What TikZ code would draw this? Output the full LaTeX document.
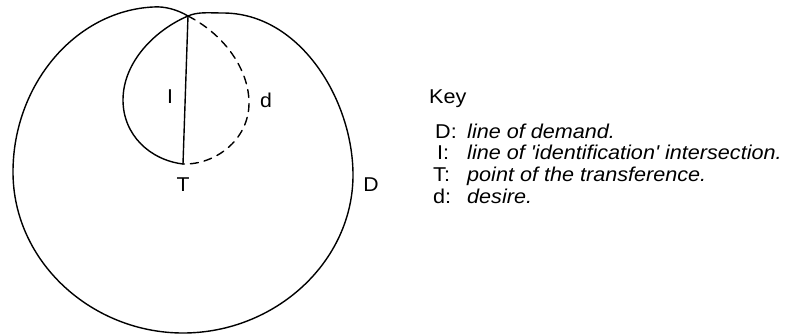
\documentclass[tikz,border=0pt]{standalone}
\usepackage{fontspec}
\newfontfamily\lblfont{Liberation Sans}
\begin{document}
\begin{tikzpicture}[x=1pt,y=-1pt,
  curve/.style={line width=1.4pt, line join=round, line cap=round},
  dashcurve/.style={curve, dash pattern=on 8pt off 6pt},
  lbl/.style={inner sep=0pt, xscale=1.06, font=\lblfont\fontsize{20}{22}\selectfont},
  keyitem/.style={inner sep=0pt, anchor=base west, xscale=1.08, font=\lblfont\fontsize{20}{22}\selectfont},
  keytext/.style={keyitem, font=\lblfont\fontsize{20}{22}\selectfont\itshape}]
\useasboundingbox (0,0) rectangle (785,335);
\coordinate (P) at (188,16);
\coordinate (T) at (183,164);
% line of demand D, running on into the left arc of the small loop
\draw[curve] (P) .. controls (178,10) and (165,6) .. (153,7)
  .. controls (75,11) and (13,85) .. (13,172)
  .. controls (13,262) and (92,333) .. (183,333)
  .. controls (275,333) and (353,262) .. (353,175)
  .. controls (353,100) and (300,13) .. (223,13)
  .. controls (210,13) and (198,11.5) .. (P)
  .. controls (155,30) and (123,62) .. (123,100)
  .. controls (123,135) and (150,160) .. (T);
% line of identification
\draw[curve] (T) -- (P);
% desire
\draw[dashcurve] (P) .. controls (225,35) and (249,70) .. (249,103)
  .. controls (249,140) and (215,165) .. (T);
\node[lbl] (lI) at (170,97) {I};
\node[lbl] (ld) at (266,100) {d};
\node[lbl] (lT) at (183,185) {T};
\node[lbl] (lD) at (371,185) {D};
\node[keyitem] (key) at (429,103) {Key};
\node[keyitem] (kD) at (435,138) {D:};
\node[keyitem] (kI) at (437,159.5) {I:};
\node[keyitem] (kT) at (433,181.5) {T:};
\node[keyitem] (kd) at (433,203) {d:};
\node[keytext] (tD) at (467,138) {line of demand.};
\node[keytext] (tI) at (467,159.5) {line of 'identification' intersection.};
\node[keytext] (tT) at (467,181.5) {point of the transference.};
\node[keytext] (td) at (467,203) {desire.};
\end{tikzpicture}
\end{document}
